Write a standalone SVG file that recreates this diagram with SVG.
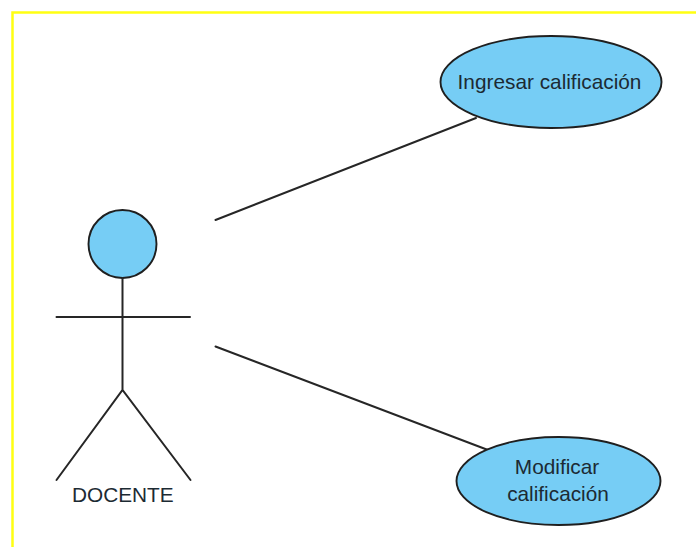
<svg xmlns="http://www.w3.org/2000/svg" width="696" height="547" viewBox="0 0 696 547">
<style>
.shape{fill:#76cdf5;stroke:#1f1f1f;stroke-width:1.9}
.line{fill:none;stroke:#262626;stroke-width:2;stroke-linecap:round}
.label{font-family:"Liberation Sans",Arial,sans-serif;font-size:20.800px;fill:#1c2a33;text-anchor:middle}
</style>
<rect width="696" height="547" fill="#ffffff"/>
<path d="M12.500 547V12.500H696" fill="none" stroke="#ffff12" stroke-width="2.500"/>
<g id="connectors">
<line class="line" x1="215.500" y1="220" x2="476" y2="118"/>
<line class="line" x1="215.500" y1="346.500" x2="488" y2="450"/>
</g>
<g id="actor-docente">
<circle class="shape" cx="122.500" cy="244" r="34"/>
<path class="line" d="M122.500 278V390M56.500 317H190M56.500 480L122.500 390L190.500 480"/>
<text class="label" x="122.800" y="502">DOCENTE</text>
</g>
<g id="uc-ingresar">
<ellipse class="shape" cx="551" cy="82" rx="110.500" ry="46"/>
<text class="label" x="549.500" y="88.500">Ingresar calificación</text>
</g>
<g id="uc-modificar">
<ellipse class="shape" cx="558.500" cy="481" rx="102" ry="44"/>
<text class="label" x="557" y="474">Modificar</text>
<text class="label" x="558" y="501">calificación</text>
</g>
</svg>
